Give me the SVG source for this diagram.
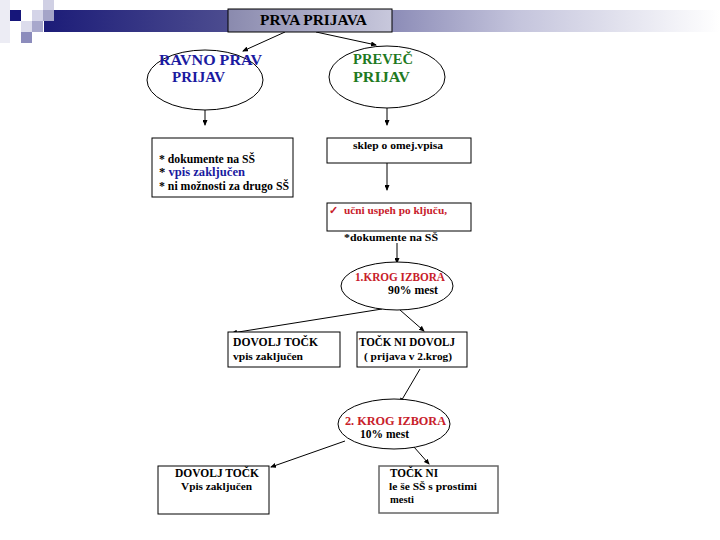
<svg xmlns="http://www.w3.org/2000/svg" width="720" height="540" viewBox="0 0 720 540">
<defs>
<linearGradient id="band" x1="0" y1="0" x2="1" y2="0">
<stop offset="0" stop-color="#1c1c78"/>
<stop offset="0.35" stop-color="#5a5a96"/>
<stop offset="0.7" stop-color="#c4c4dc"/>
<stop offset="1" stop-color="#ffffff"/>
</linearGradient>
<linearGradient id="tbox" x1="0" y1="0" x2="1" y2="0">
<stop offset="0" stop-color="#8a8aae"/>
<stop offset="1" stop-color="#c8c8dc"/>
</linearGradient>
<marker id="ah" markerWidth="6" markerHeight="5" refX="5" refY="2.5" orient="auto" markerUnits="userSpaceOnUse">
<path d="M0,0 L6,2.5 L0,5 z" fill="#000"/>
</marker>
<style>
text{font-family:"Liberation Serif","DejaVu Serif","Times New Roman",serif;font-weight:bold;font-size:12px;fill:#000}
.box{fill:#fff;stroke:#000;stroke-width:1}
.ell{fill:#fff;stroke:#000;stroke-width:1}
.con{stroke:#000;stroke-width:1;fill:none;marker-end:url(#ah)}
.blue{fill:#1a1aa0}
.green{fill:#1f7a1f}
.red{fill:#c8202a}
</style>
</defs>
<rect width="720" height="540" fill="#fff"/>
<g id="deco">
<rect x="44" y="10" width="676" height="22" fill="url(#band)"/>
<rect x="0" y="0" width="10" height="43" fill="#ececf4"/>
<rect x="43" y="0" width="11" height="10" fill="#d0d0e4"/>
<rect x="10" y="10" width="11" height="11" fill="#16167a"/>
<rect x="32" y="10" width="11" height="11" fill="#d4d4e8"/>
<rect x="43" y="10" width="11" height="11" fill="#a4a4c8"/>
<rect x="21" y="21" width="11" height="11" fill="#dcdcec"/>
<rect x="32" y="21" width="11" height="11" fill="#a8a8cc"/>
<rect x="21" y="32" width="11" height="11" fill="#8c8cbc"/>
</g>
<g id="connectors">
<line class="con" x1="285" y1="32" x2="243" y2="51"/>
<line class="con" x1="316" y1="32" x2="376" y2="45"/>
<line class="con" x1="205" y1="110" x2="205" y2="125"/>
<line class="con" x1="387" y1="108" x2="387" y2="125"/>
<line class="con" x1="387" y1="163" x2="387" y2="190"/>
<line class="con" x1="397" y1="243" x2="397" y2="263"/>
<line class="con" x1="382" y1="309" x2="232" y2="333"/>
<line class="con" x1="400" y1="310" x2="424" y2="331"/>
<line class="con" x1="420" y1="369" x2="400" y2="403"/>
<line class="con" x1="345" y1="441" x2="271" y2="467"/>
<line class="con" x1="414" y1="447" x2="429" y2="464"/>
</g>
<g id="title">
<rect x="228" y="9" width="164" height="23" fill="url(#tbox)" stroke="#000"/>
<text x="260" y="25" textLength="107" lengthAdjust="spacingAndGlyphs" style="font-size:14px">PRVA PRIJAVA</text>
</g>
<g id="ravno">
<ellipse class="ell" cx="205" cy="80" rx="58" ry="30"/>
<text x="159" y="65" class="blue" textLength="103" lengthAdjust="spacingAndGlyphs" style="font-size:14px">RAVNO PRAV</text>
<text x="172" y="82" class="blue" textLength="53" lengthAdjust="spacingAndGlyphs" style="font-size:14px">PRIJAV</text>
</g>
<g id="prevec">
<ellipse class="ell" cx="387" cy="77" rx="58" ry="31"/>
<text x="353" y="64" class="green" textLength="60" lengthAdjust="spacingAndGlyphs" style="font-size:14px">PREVEČ</text>
<text x="353" y="82" class="green" textLength="57" lengthAdjust="spacingAndGlyphs" style="font-size:14px">PRIJAV</text>
</g>
<g id="box1">
<rect class="box" x="152" y="138" width="141" height="59"/>
<text x="159" y="163" textLength="96" lengthAdjust="spacingAndGlyphs">* dokumente na SŠ</text>
<text x="159" y="176" textLength="86" lengthAdjust="spacingAndGlyphs"><tspan>* </tspan><tspan class="blue">vpis zaključen</tspan></text>
<text x="159" y="190" textLength="130" lengthAdjust="spacingAndGlyphs">* ni možnosti za drugo SŠ</text>
</g>
<g id="sklep">
<rect class="box" x="327" y="138" width="144" height="25"/>
<text x="353" y="149" textLength="90" lengthAdjust="spacingAndGlyphs" style="font-size:11px">sklep o omej.vpisa</text>
</g>
<g id="ucni">
<rect class="box" x="327" y="203" width="144" height="28"/>
<text x="329" y="214" class="red" style="font-size:11px">✓</text>
<text x="344" y="214" class="red" textLength="103" lengthAdjust="spacingAndGlyphs" style="font-size:11px">učni uspeh po ključu,</text>
<text x="344" y="241" textLength="94" lengthAdjust="spacingAndGlyphs" style="font-size:11px">*dokumente na SŠ</text>
</g>
<g id="krog1">
<ellipse class="ell" cx="397" cy="286" rx="56" ry="24"/>
<text x="355" y="281" class="red" textLength="90" lengthAdjust="spacingAndGlyphs">1.KROG IZBORA</text>
<text x="388" y="294" textLength="50" lengthAdjust="spacingAndGlyphs">90% mest</text>
</g>
<g id="dovolj1">
<rect class="box" x="228" y="332" width="112" height="35"/>
<text x="233" y="346" textLength="85" lengthAdjust="spacingAndGlyphs">DOVOLJ TOČK</text>
<text x="233" y="360" textLength="70" lengthAdjust="spacingAndGlyphs" style="font-size:11px">vpis zaključen</text>
</g>
<g id="tockni1">
<rect class="box" x="357" y="332" width="110" height="35"/>
<text x="359" y="346" textLength="96" lengthAdjust="spacingAndGlyphs">TOČK NI DOVOLJ</text>
<text x="364" y="360" textLength="88" lengthAdjust="spacingAndGlyphs" style="font-size:10px">( prijava v 2.krog)</text>
</g>
<g id="krog2">
<ellipse class="ell" cx="394" cy="424" rx="56" ry="25"/>
<text x="345" y="425" class="red" textLength="101" lengthAdjust="spacingAndGlyphs">2. KROG IZBORA</text>
<text x="360" y="438" textLength="49" lengthAdjust="spacingAndGlyphs">10% mest</text>
</g>
<g id="dovolj2">
<rect class="box" x="158" y="466" width="111" height="48"/>
<text x="175" y="477" textLength="84" lengthAdjust="spacingAndGlyphs">DOVOLJ TOČK</text>
<text x="181" y="490" textLength="71" lengthAdjust="spacingAndGlyphs" style="font-size:11px">Vpis zaključen</text>
</g>
<g id="tockni2">
<rect x="379" y="466" width="119" height="47" fill="#fff" stroke="#666" stroke-width="1.5"/>
<text x="390" y="477" textLength="48" lengthAdjust="spacingAndGlyphs">TOČK NI</text>
<text x="389" y="490" textLength="88" lengthAdjust="spacingAndGlyphs" style="font-size:11px">le še SŠ s prostimi</text>
<text x="390" y="503" textLength="24" lengthAdjust="spacingAndGlyphs" style="font-size:11px">mesti</text>
</g>
</svg>
